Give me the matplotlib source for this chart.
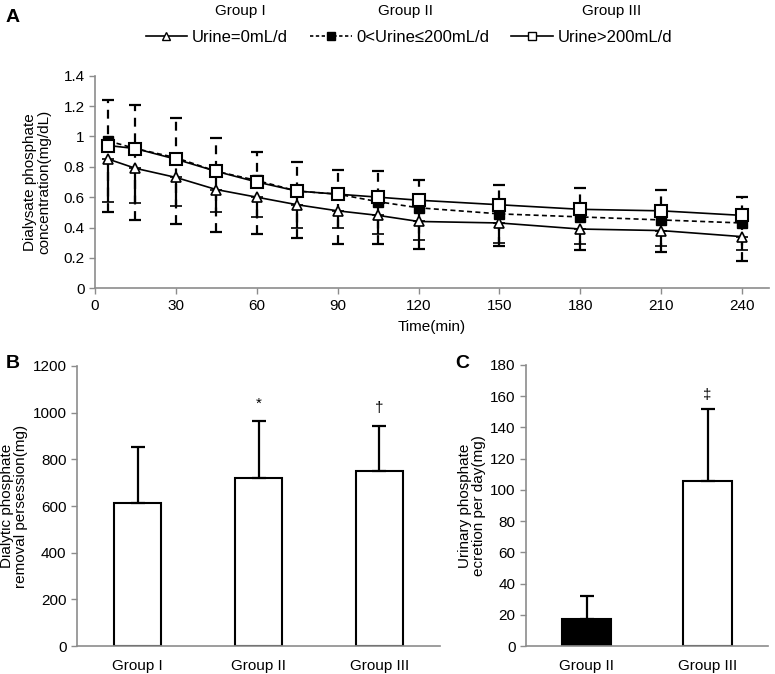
import numpy as np
import matplotlib.pyplot as plt
from matplotlib.lines import Line2D

plt.rcParams['font.family'] = ['Liberation Sans', 'DejaVu Sans']
plt.rcParams['font.size'] = 11

# Panel A: dialysate phosphate over time
time_min = [5, 15, 30, 45, 60, 75, 90, 105, 120, 150, 180, 210, 240]
conc_g1 = [0.85, 0.79, 0.73, 0.65, 0.60, 0.55, 0.51, 0.48, 0.44, 0.43, 0.39, 0.38, 0.34]
conc_g2 = [0.97, 0.92, 0.86, 0.77, 0.71, 0.64, 0.62, 0.57, 0.53, 0.49, 0.47, 0.45, 0.43]
conc_g3 = [0.94, 0.92, 0.85, 0.77, 0.70, 0.64, 0.62, 0.60, 0.58, 0.55, 0.52, 0.51, 0.48]
g2_upper = [1.24, 1.21, 1.12, 0.99, 0.90, 0.83, 0.78, 0.77, 0.71, 0.68, 0.66, 0.65, 0.60]
g1_lower = [0.57, 0.56, 0.54, 0.50, 0.47, 0.40, 0.40, 0.36, 0.32, 0.30, 0.29, 0.28, 0.25]
g2_lower = [0.50, 0.45, 0.42, 0.37, 0.36, 0.33, 0.29, 0.29, 0.26, 0.28, 0.25, 0.24, 0.18]
legend_labels = ['Urine=0mL/d', '0<Urine\u2264200mL/d', 'Urine>200mL/d']
group_names = ['Group I', 'Group II', 'Group III']

# Panel B: dialytic removal per session
removal_groups = ['Group I', 'Group II', 'Group III']
removal_mean = [614, 721, 751]
removal_sd = [237, 243, 193]
removal_marks = ['', '*', '\u2020']

# Panel C: urinary excretion per day
urine_groups = ['Group II', 'Group III']
urine_mean = [17.5, 106]
urine_sd = [14.7, 46]
urine_marks = ['', '\u2021']

AXIS_GRAY = '#8c8c8c'


def style_axes(ax):
    for side in ['top', 'right']:
        ax.spines[side].set_visible(False)
    for side in ['left', 'bottom']:
        ax.spines[side].set_color(AXIS_GRAY)
        ax.spines[side].set_linewidth(1.2)
    ax.tick_params(color=AXIS_GRAY, length=4, width=1, labelsize=11)


fig = plt.figure(figsize=(7.75, 6.74), dpi=100)

# ---------- Panel A ----------
axA = fig.add_axes([0.1226, 0.5723, 0.8697, 0.3154])
t = np.array(time_min)
c1, c2, c3 = np.array(conc_g1), np.array(conc_g2), np.array(conc_g3)

# group I: solid, lower error bar
axA.errorbar(t, c1, yerr=[c1 - np.array(g1_lower), np.zeros_like(c1)],
             color='black', lw=1.2, marker='^', ms=7, mfc='white', mec='black', mew=1.2,
             ecolor='black', elinewidth=1.6, capsize=4, capthick=1.6, zorder=3)
# group II: dashed, both directions
eb2 = axA.errorbar(t, c2, yerr=[c2 - np.array(g2_lower), np.array(g2_upper) - c2],
                   color='black', lw=1.2, ls=(0, (3, 2)), marker='s', ms=7, mfc='black', mec='black',
                   ecolor='black', elinewidth=1.6, capsize=4, capthick=1.6, zorder=2)
eb2[2][0].set_linestyle((0, (4, 3)))
# group III: solid, open squares
axA.plot(t, c3, color='black', lw=1.2, marker='s', ms=8, mfc='white', mec='black', mew=1.5, zorder=4)

axA.set_xlim(0, 250)
axA.set_ylim(0, 1.4)
axA.set_xticks(np.arange(0, 241, 30))
axA.set_yticks(np.arange(0, 1.41, 0.2))
axA.set_yticklabels(['0', '0.2', '0.4', '0.6', '0.8', '1', '1.2', '1.4'])
style_axes(axA)
axA.set_xlabel('Time(min)', fontsize=11, labelpad=5)
axA.set_ylabel('Dialysate phosphate\nconcentration(mg/dL)', fontsize=11, labelpad=9, linespacing=1.0)

handles = [
    Line2D([], [], color='black', lw=1.2, marker='^', ms=6, mfc='white', mec='black'),
    Line2D([], [], color='black', lw=1.2, ls=(0, (2, 1.5)), marker='s', ms=6, mfc='black', mec='black'),
    Line2D([], [], color='black', lw=1.2, marker='s', ms=6, mfc='white', mec='black'),
]
fig.legend(handles, legend_labels, ncol=3, loc='center', bbox_to_anchor=(409 / 775, 1 - 37 / 674),
           frameon=False, fontsize=12, handlelength=2.5, columnspacing=1.3, handletextpad=0.3)
for name, xp in zip(group_names, [240, 405, 612]):
    fig.text(xp / 775, 1 - 11 / 674, name, ha='center', va='center', fontsize=11)

fig.text(6 / 775, 1 - 18 / 674, 'A', fontsize=14, fontweight='bold', va='center')

# ---------- Panel B ----------
axB = fig.add_axes([0.0994, 0.0415, 0.4683, 0.4155])
xb = np.arange(len(removal_groups))
axB.bar(xb, removal_mean, width=0.39, color='white', edgecolor='black', linewidth=1.5,
        yerr=[np.zeros(len(xb)), removal_sd], capsize=5,
        error_kw=dict(elinewidth=1.6, capthick=1.6, ecolor='black'))
for x, m, s, mark in zip(xb, removal_mean, removal_sd, removal_marks):
    if mark:
        axB.text(x, m + s + 45, mark, ha='center', va='bottom', fontsize=11)
axB.set_xlim(-0.5, 2.5)
axB.set_ylim(0, 1200)
axB.set_yticks(np.arange(0, 1201, 200))
axB.set_xticks(xb)
axB.set_xticklabels(removal_groups)
style_axes(axB)
axB.tick_params(axis='x', length=0, pad=9)
axB.set_ylabel('Dialytic phosphate\nremoval persession(mg)', fontsize=11, labelpad=3, linespacing=1.0)
fig.text(6 / 775, 1 - 364 / 674, 'B', fontsize=14, fontweight='bold', va='center')

# ---------- Panel C ----------
axC = fig.add_axes([0.6787, 0.0415, 0.3123, 0.417])
xc = np.arange(len(urine_groups))
axC.bar(xc, urine_mean, width=0.40, color=['black', 'white'], edgecolor='black', linewidth=1.5,
        yerr=[np.zeros(len(xc)), urine_sd], capsize=5,
        error_kw=dict(elinewidth=1.6, capthick=1.6, ecolor='black'))
for x, m, s, mark in zip(xc, urine_mean, urine_sd, urine_marks):
    if mark:
        axC.text(x, m + s + 4, mark, ha='center', va='bottom', fontsize=11)
axC.set_xlim(-0.5, 1.5)
axC.set_ylim(0, 180)
axC.set_yticks(np.arange(0, 181, 20))
axC.set_xticks(xc)
axC.set_xticklabels(urine_groups)
style_axes(axC)
axC.tick_params(axis='x', length=0, pad=9)
axC.set_ylabel('Urinary phosphate\necretion per day(mg)', fontsize=11, labelpad=3, linespacing=1.0)
fig.text(455 / 775, 1 - 364 / 674, 'C', fontsize=14, fontweight='bold', va='center')

fig.savefig('out.png', dpi=100)
